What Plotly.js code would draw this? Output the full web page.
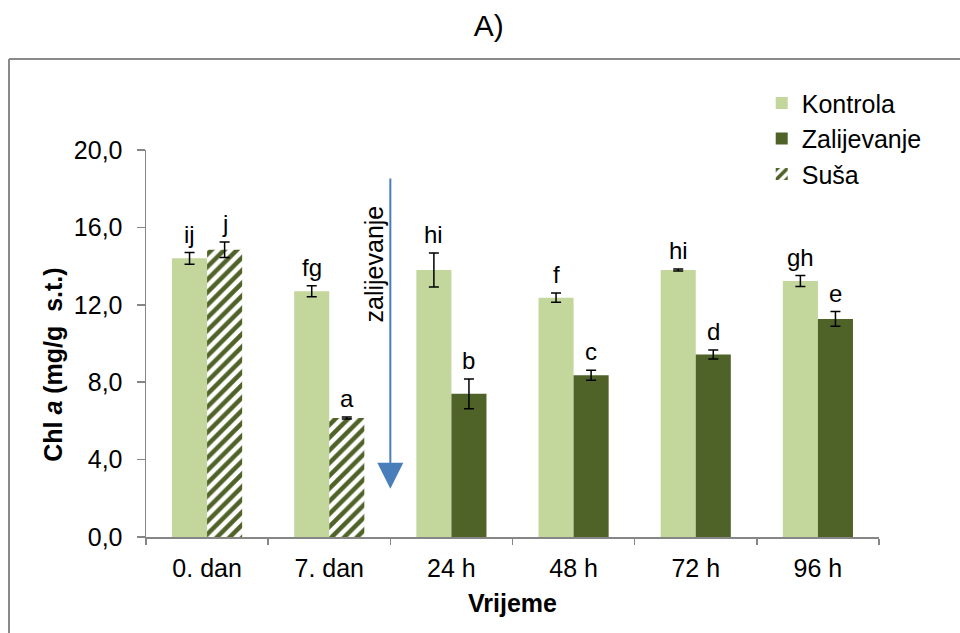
<!DOCTYPE html>
<html>
<head>
<meta charset="utf-8">
<script src="https://cdn.plot.ly/plotly-3.0.1.min.js"></script>
<style>html,body{margin:0;padding:0;background:#fff;}#chart{width:960px;height:633px;}</style>
</head>
<body>
<div id="chart"></div>
<script>
// ---- data ----
const categories = ["0. dan", "7. dan", "24 h", "48 h", "72 h", "96 h"];
const kontrola = [14.4, 12.7, 13.8, 12.37, 13.8, 13.23];
const kontrolaErr = [0.3, 0.28, 0.88, 0.24, 0.05, 0.28];
const kontrolaLetters = ["ij", "fg", "hi", "f", "hi", "gh"];
const zalijevanje = [null, null, 7.4, 8.36, 9.43, 11.27];
const zalijevanjeErr = [null, null, 0.77, 0.26, 0.23, 0.38];
const zalijevanjeLetters = ["", "", "b", "c", "d", "e"];
const susa = [14.85, 6.15, null, null, null, null];
const susaErr = [0.4, 0.05, null, null, null, null];
const susaLetters = ["j", "a", "", "", "", ""];
const yTicks = [0, 4, 8, 12, 16, 20];

const cLight = "#c3d69b";
const cDark = "#4f6228";
const font = "Liberation Sans, Arial, sans-serif";

function errBar(arr) {
  return {type: "data", array: arr, visible: true, color: "#000", thickness: 1.5, width: 5};
}

const traces = [
  {type: "bar", name: "Kontrola", x: categories, y: kontrola, offsetgroup: "1",
   marker: {color: cLight}, error_y: errBar(kontrolaErr)},
  {type: "bar", name: "Zalijevanje", x: categories, y: zalijevanje, offsetgroup: "2",
   marker: {color: cDark}, error_y: errBar(zalijevanjeErr)},
  {type: "bar", name: "Suša", x: categories, y: susa, offsetgroup: "2",
   marker: {color: cDark, pattern: {shape: "/", fgcolor: cDark, bgcolor: "#ffffff", size: 9, solidity: 0.5}},
   error_y: errBar(susaErr)}
];

const annotations = [];
function addLetters(vals, errs, letters, shift) {
  for (let i = 0; i < categories.length; i++) {
    if (vals[i] == null || !letters[i]) continue;
    annotations.push({x: categories[i], y: vals[i] + (errs[i] || 0), xref: "x", yref: "y",
      text: letters[i], showarrow: false, xshift: shift, yanchor: "bottom", yshift: 3,
      font: {family: font, size: 24, color: "#000"}});
  }
}
addLetters(kontrola, kontrolaErr, kontrolaLetters, -17.5);
addLetters(zalijevanje, zalijevanjeErr, zalijevanjeLetters, 17.5);
addLetters(susa, susaErr, susaLetters, 17.5);

// arrow "zalijevanje"
annotations.push({x: 1.5, y: 2.5, xref: "x", yref: "y", ax: 1.5, ay: 18.6, axref: "x", ayref: "y",
  text: "", showarrow: true, arrowhead: 2, arrowsize: 2.6, arrowwidth: 2, arrowcolor: "#4a7ebb", standoff: 0});
annotations.push({x: 1.5, y: 14.1, xref: "x", yref: "y", xshift: -16, text: "zalijevanje", textangle: -90,
  showarrow: false, font: {family: font, size: 25, color: "#000"}});

// y-axis title
annotations.push({x: -0.127, y: 0.486, xref: "paper", yref: "paper", xanchor: "center", yanchor: "middle",
  yshift: -16,
  text: "<b>Chl <i>a</i> (mg/g&nbsp;&nbsp;s.t.)</b>", textangle: -90, showarrow: false,
  font: {family: font, size: 25, color: "#000"}});

const layout = {
  width: 960, height: 633,
  margin: {l: 146, r: 81, t: 150, b: 96},
  paper_bgcolor: "#fff", plot_bgcolor: "#fff",
  separators: ",.",
  font: {family: font, size: 25, color: "#000"},
  title: {text: "A)", x: 0.509, xanchor: "center", y: 0.96, yanchor: "middle", font: {family: font, size: 30, color: "#000"}},
  barmode: "group", bargap: 0.426, bargroupgap: 0,
  xaxis: {type: "category", range: [-0.5, 5.5], showline: true, linecolor: "#868686", linewidth: 1.5,
    ticks: "outside", tickson: "boundaries", ticklen: 6, tickcolor: "#868686", tickwidth: 1.5,
    ticklabelstandoff: 8,
    showgrid: false, zeroline: false, tickfont: {family: font, size: 25, color: "#000"},
    title: {text: "<b>Vrijeme</b>", standoff: 14, font: {family: font, size: 25, color: "#000"}}},
  yaxis: {range: [0, 20], tickvals: yTicks, tickformat: ".1f", showline: true, linecolor: "#868686", linewidth: 1.5,
    ticks: "outside", ticklen: 8, tickcolor: "#868686", tickwidth: 1.5, showgrid: false, zeroline: false,
    ticklabelstandoff: 9,
    tickfont: {family: font, size: 25, color: "#000"}},
  legend: {x: 0.84, xanchor: "left", y: 1.18, yanchor: "top", bgcolor: "rgba(0,0,0,0)",
    font: {family: font, size: 25, color: "#000"}, traceorder: "normal", itemwidth: 30},
  showlegend: true,
  annotations: annotations,
  shapes: [
    {type: "line", xref: "paper", yref: "paper", x0: -0.1869, x1: -0.1869, y0: -0.3, y1: 1.235, line: {color: "#8a8a8a", width: 2}},
    {type: "line", xref: "paper", yref: "paper", x0: -0.1869, x1: 1.2, y0: 1.235, y1: 1.235, line: {color: "#8a8a8a", width: 2}}
  ]
};

Plotly.newPlot("chart", traces, layout, {displayModeBar: false, staticPlot: true});
</script>
</body>
</html>
